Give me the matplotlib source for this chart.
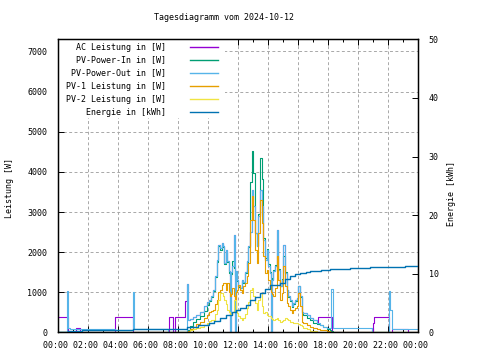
import matplotlib
matplotlib.use('Agg')
import matplotlib.pyplot as plt
from matplotlib.patches import Rectangle
from matplotlib.ticker import MultipleLocator

plt.rc('font', family='DejaVu Sans Mono', size=6)

# --- data (time in hours, power in W, energy in kWh) ---
x_ticks = [0, 2, 4, 6, 8, 10, 12, 14, 16, 18, 20, 22, 24]
x_labels = ["00:00", "02:00", "04:00", "06:00", "08:00", "10:00", "12:00",
            "14:00", "16:00", "18:00", "20:00", "22:00", "00:00"]

# daytime sample times shared by the PV series
day_t = [8.55, 8.62, 8.80, 9.00, 9.20, 9.45, 9.70, 9.90, 10.07, 10.20,
         10.33, 10.45, 10.56, 10.67, 10.78, 10.89, 10.96, 11.07, 11.18, 11.27,
         11.40, 11.47, 11.52, 11.60, 11.70, 11.76, 11.82, 11.93, 12.00, 12.11,
         12.22, 12.33, 12.45, 12.55, 12.67, 12.78, 12.89, 13.00, 13.11, 13.22,
         13.33, 13.44, 13.56, 13.67, 13.78, 13.89, 14.00, 14.11, 14.20, 14.25,
         14.33, 14.44, 14.55, 14.62, 14.67, 14.78, 14.89, 15.00, 15.11, 15.22,
         15.33, 15.44, 15.56, 15.67, 15.78, 15.89, 16.00, 16.11, 16.22, 16.33,
         16.56, 16.78, 17.00, 17.22, 17.44, 17.67, 17.89, 18.10, 18.20, 18.30,
         18.70]

pv_out_day = [1210, 310, 340, 380, 440, 520, 650, 770, 810, 900,
              1060, 1400, 1800, 2190, 2100, 2230, 2150, 1730, 2060, 1770,
              1520, 0, 1500, 1650, 2440, 0, 1520, 1300, 1150, 1110,
              1310, 1250, 1500, 1770, 2150, 2490, 3560, 3150, 2480, 2150,
              2900, 3560, 3150, 2310, 1810, 2060, 1650, 1480, 0, 1310,
              1520, 1650, 2560, 1800, 1560, 1150, 1310, 2190, 1480, 1060,
              900, 810, 650, 730, 810, 850, 1150, 900, 520, 480,
              440, 355, 310, 230, 190, 145, 105, 100, 1090, 120,
              120]
pv_in_day = [40, 60, 170, 270, 340, 410, 540, 680, 790, 880,
             1040, 1380, 1750, 2150, 2050, 2200, 2120, 1700, 2000, 1750,
             1480, 1400, 1450, 1770, 1600, 1400, 1500, 1280, 1130, 1100,
             1290, 1230, 1480, 1750, 2130, 3740, 4520, 3980, 2480, 2150,
             2950, 4350, 3810, 2350, 1850, 2080, 1700, 1500, 1350, 1330,
             1550, 1680, 2300, 1820, 1580, 1170, 1330, 1900, 1500, 1060,
             880, 790, 640, 720, 790, 840, 1150, 880, 480, 430,
             355, 300, 245, 210, 180, 130, 90, 60, 30, 0,
             0]
pv1_day = [20, 40, 80, 145, 200, 270, 360, 440, 500, 540,
           560, 700, 810, 1000, 1060, 1190, 1230, 1230, 1060, 1230,
           1000, 900, 950, 1100, 900, 810, 1000, 1060, 1190, 1060,
           980, 1150, 1230, 1400, 1730, 2810, 3400, 2810, 2060, 1730,
           2480, 3310, 2730, 1900, 1480, 1560, 1310, 1150, 1000, 950,
           900, 1100, 1900, 1400, 1310, 810, 980, 1650, 1150, 730,
           650, 560, 480, 560, 600, 650, 980, 650, 270, 230,
           190, 145, 105, 80, 60, 60, 40, 20, 20, 20,
           20]
pv2_day = [10, 20, 50, 90, 110, 145, 190, 230, 295, 300,
           310, 450, 560, 800, 980, 980, 900, 810, 700, 560,
           500, 450, 450, 500, 800, 810, 550, 480, 400, 350,
           310, 350, 450, 600, 750, 1060, 1100, 900, 730, 560,
           810, 980, 650, 480, 500, 440, 420, 400, 350, 330,
           310, 330, 355, 330, 300, 270, 290, 310, 355, 340,
           300, 270, 250, 230, 240, 230, 210, 190, 150, 105,
           80, 45, 30, 10, 0, 0, 0, 0, 0, 0,
           0]

# night parts
pv_out_morning_t = [0.0, 0.60, 0.66, 0.75, 3.80, 4.95, 5.03, 7.33]
pv_out_morning_w = [0, 1040, 120, 88, 62, 1020, 80, 0]
pv_out_evening_t = [20.90, 22.03, 22.12, 22.22, 24.0]
pv_out_evening_w = [0, 1045, 560, 85, 85]

zero_morning_t = [0.0, 8.40]
zero_morning_w = [0, 0]
zero_evening_t = [19.10, 24.0]
zero_evening_w = [0, 0]

ac_morning_t = [0.0, 0.63, 1.20, 1.45, 3.80, 4.97, 7.35, 7.63, 7.80, 8.45]
ac_morning_w = [380, 0, 100, 0, 380, 0, 380, 0, 380, 790]
ac_evening_t = [17.33, 18.25, 20.90, 20.95, 21.00, 21.05, 22.05, 22.25, 23.30, 24.0]
ac_evening_w = [380, 0, 100, 0, 230, 380, 0, 95, 0, 0]

energy_t = [0.0, 0.65, 1.55, 3.80, 4.97, 7.0, 8.0, 8.58, 9.3, 10.02,
            10.4, 10.8, 11.2, 11.57, 11.85, 12.13, 12.5, 12.8, 13.1, 13.47,
            13.8, 14.13, 14.5, 14.8, 15.1, 15.47, 15.8, 16.13, 16.5, 16.8,
            17.5, 18.13, 19.47, 20.8, 22.13, 23.1, 24.0]
energy_kwh = [0.15, 0.25, 0.35, 0.45, 0.55, 0.6, 0.62, 1.0, 1.25, 1.57,
              1.9, 2.43, 3.0, 3.45, 3.8, 4.14, 4.7, 5.56, 6.1, 6.7,
              7.5, 8.1, 8.15, 8.5, 9.1, 9.7, 10.0, 10.2, 10.4, 10.56,
              10.7, 10.8, 11.0, 11.1, 11.25, 11.4, 11.4]

# AC output follows PV-Power-Out during the day
ac_day_t = [t for t in day_t if t <= 17.22]
ac_day_w = pv_out_day[:len(ac_day_t)]

series = [
    ("AC Leistung in [W]", "#9400d3",
     ac_morning_t + ac_day_t + ac_evening_t, ac_morning_w + ac_day_w + ac_evening_w),
    ("PV-Power-In in [W]", "#009e73",
     zero_morning_t + day_t + zero_evening_t, zero_morning_w + pv_in_day + zero_evening_w),
    ("PV-Power-Out in [W]", "#56b4e9",
     pv_out_morning_t + day_t + pv_out_evening_t, pv_out_morning_w + pv_out_day + pv_out_evening_w),
    ("PV-1 Leistung in [W]", "#e69f00",
     zero_morning_t + day_t + zero_evening_t, zero_morning_w + pv1_day + zero_evening_w),
    ("PV-2 Leistung in [W]", "#f0e442",
     zero_morning_t + day_t + zero_evening_t, zero_morning_w + pv2_day + zero_evening_w),
]

fig = plt.figure(figsize=(4.8, 3.6), dpi=100)
ax = fig.add_axes([0.1215, 0.0764, 0.75, 0.8144])

for label, color, t, w in series:
    ax.step(t, w, where='post', color=color, lw=0.8, zorder=2)

ax.set_xlim(0, 24)
ax.set_ylim(0, 7300)
ax.set_xticks(x_ticks)
ax.set_xticklabels([s + " " for s in x_labels])
ax.xaxis.set_minor_locator(MultipleLocator(1))
ax.yaxis.set_major_locator(MultipleLocator(1000))
ax.grid(True, color='#a8a8a8', linestyle=(0, (3, 2.5)), lw=0.7)
ax.set_axisbelow(True)
ax.tick_params(axis='x', which='both', direction='in', top=True, pad=6)
ax.tick_params(axis='x', which='major', length=4, width=0.7)
ax.tick_params(axis='x', which='minor', length=2, width=0.7)
ax.tick_params(axis='y', direction='in', right=True, length=4, width=0.7, pad=8)
for sp in ax.spines.values():
    sp.set_linewidth(1.0)

ax2 = ax.twinx()
ax2.step(energy_t, energy_kwh, where='post', color='#0072b2', lw=1.0)
ax2.set_ylim(0, 50)
ax2.yaxis.set_major_locator(MultipleLocator(10))
ax2.tick_params(axis='y', direction='in', length=4, width=0.7, pad=7.5)

# opaque key in the upper left corner
ax.add_patch(Rectangle((0, 0.7316), 0.463, 0.2684, transform=ax.transAxes,
                       facecolor='white', edgecolor='none', zorder=1))
row_y = [0.9737, 0.9294, 0.8850, 0.8407, 0.7964, 0.7520]
keys = [(s[0], s[1]) for s in series] + [("Energie in [kWh]", "#0072b2")]
for (label, color), yy in zip(keys, row_y):
    ax.text(0.299, yy, label, transform=ax.transAxes, ha='right', va='center', zorder=3)
    ax.plot([0.3658, 0.4428], [yy, yy], transform=ax.transAxes, color=color,
            lw=1.0, zorder=3)

fig.text(223.5 / 480, 1 - 18 / 360, "Tagesdiagramm vom 2024-10-12", ha='center', va='center')
fig.text(10 / 480, 1 - 188 / 360, "Leistung [W]", rotation=90, ha='center', va='center')
fig.text(452 / 480, 1 - 193 / 360, "Energie [kWh]", rotation=90, ha='center', va='center')

fig.savefig('out.png', dpi=100)
